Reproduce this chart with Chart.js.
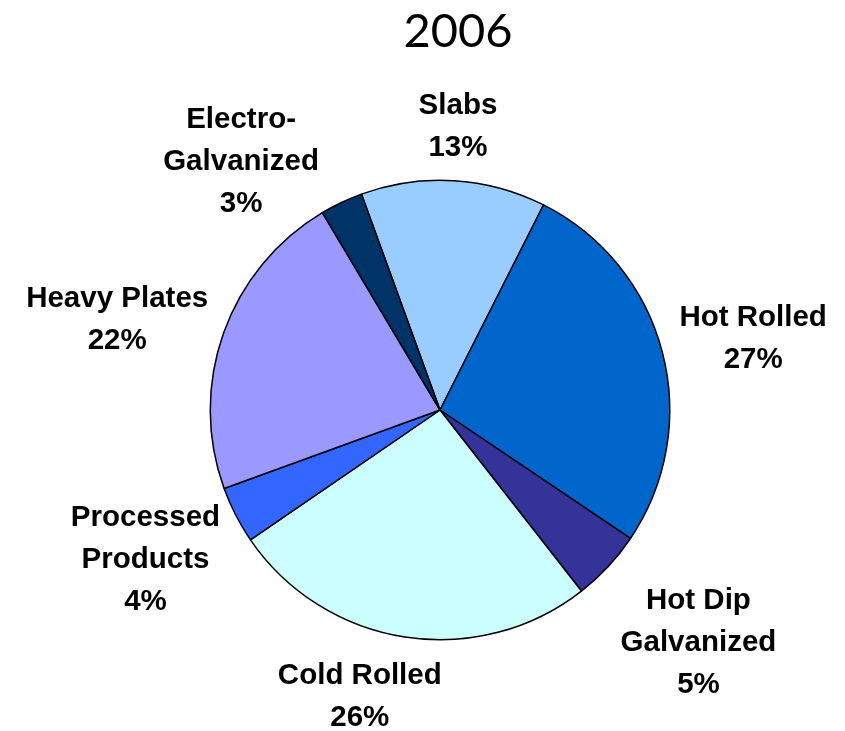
<!DOCTYPE html>
<html>
<head>
<meta charset="utf-8">
<script src="https://cdn.jsdelivr.net/npm/chart.js@4/dist/chart.umd.min.js"></script>
<style>
html,body{margin:0;padding:0;background:#fff;}
canvas{display:block;}
</style>
</head>
<body>
<canvas id="c" width="845" height="731"></canvas>
<script>
const chartTitle = "2006";
const categories = ["Slabs", "Hot Rolled", "Hot Dip Galvanized", "Cold Rolled", "Processed Products", "Heavy Plates", "Electro-Galvanized"];
const categoryLines = [["Slabs"], ["Hot Rolled"], ["Hot Dip", "Galvanized"], ["Cold Rolled"], ["Processed", "Products"], ["Heavy Plates"], ["Electro-", "Galvanized"]];
const shares = [13, 27, 5, 26, 4, 22, 3];
const sliceColors = ["#99CCFF", "#0066CC", "#333399", "#CCFFFF", "#3366FF", "#9999FF", "#003366"];
// label placement relative to each slice: angle shift (deg) from slice middle, distance in radii
const labelAngleShift = [0.2, 1.4, -1.2, 6.9, 0.5, -3.7, -13.1];
const labelDistance = [1.245, 1.40, 1.509, 1.29, 1.435, 1.461, 1.391];

const labelPlugin = {
  id: 'sliceLabels',
  afterDraw(chart) {
    const ctx = chart.ctx;
    ctx.save();
    ctx.fillStyle = '#000';
    ctx.font = '400 47px Lato, "Open Sans", sans-serif';
    ctx.textAlign = 'center';
    ctx.textBaseline = 'alphabetic';
    ctx.fillText(chartTitle, 458, 47);
    const meta = chart.getDatasetMeta(0);
    const total = shares.reduce((a, b) => a + b, 0);
    ctx.font = 'bold 29.5px "Liberation Sans", Arial, sans-serif';
    ctx.textBaseline = 'middle';
    meta.data.forEach((arc, i) => {
      const p = arc.getProps(['x', 'y', 'startAngle', 'endAngle', 'outerRadius'], true);
      const mid = (p.startAngle + p.endAngle) / 2 + labelAngleShift[i] * Math.PI / 180;
      const d = p.outerRadius * labelDistance[i];
      const cx = p.x + Math.cos(mid) * d;
      const cy = p.y + Math.sin(mid) * d + 2;
      const lines = categoryLines[i].concat([Math.round(shares[i] / total * 100) + '%']);
      const lh = 42;
      lines.forEach((t, j) => {
        ctx.fillText(t, cx, cy + (j - (lines.length - 1) / 2) * lh);
      });
    });
    ctx.restore();
  }
};

new Chart(document.getElementById('c'), {
  type: 'pie',
  data: {
    labels: categories,
    datasets: [{
      data: shares,
      backgroundColor: sliceColors,
      borderColor: '#000',
      borderWidth: 1.5
    }]
  },
  options: {
    responsive: false,
    animation: false,
    rotation: -20,
    layout: { padding: { left: 209.5, right: 174.5, top: 179.5, bottom: 90.5 } },
    plugins: {
      legend: { display: false },
      tooltip: { enabled: false },
      title: { display: false }
    }
  },
  plugins: [labelPlugin]
});
</script>
</body>
</html>
